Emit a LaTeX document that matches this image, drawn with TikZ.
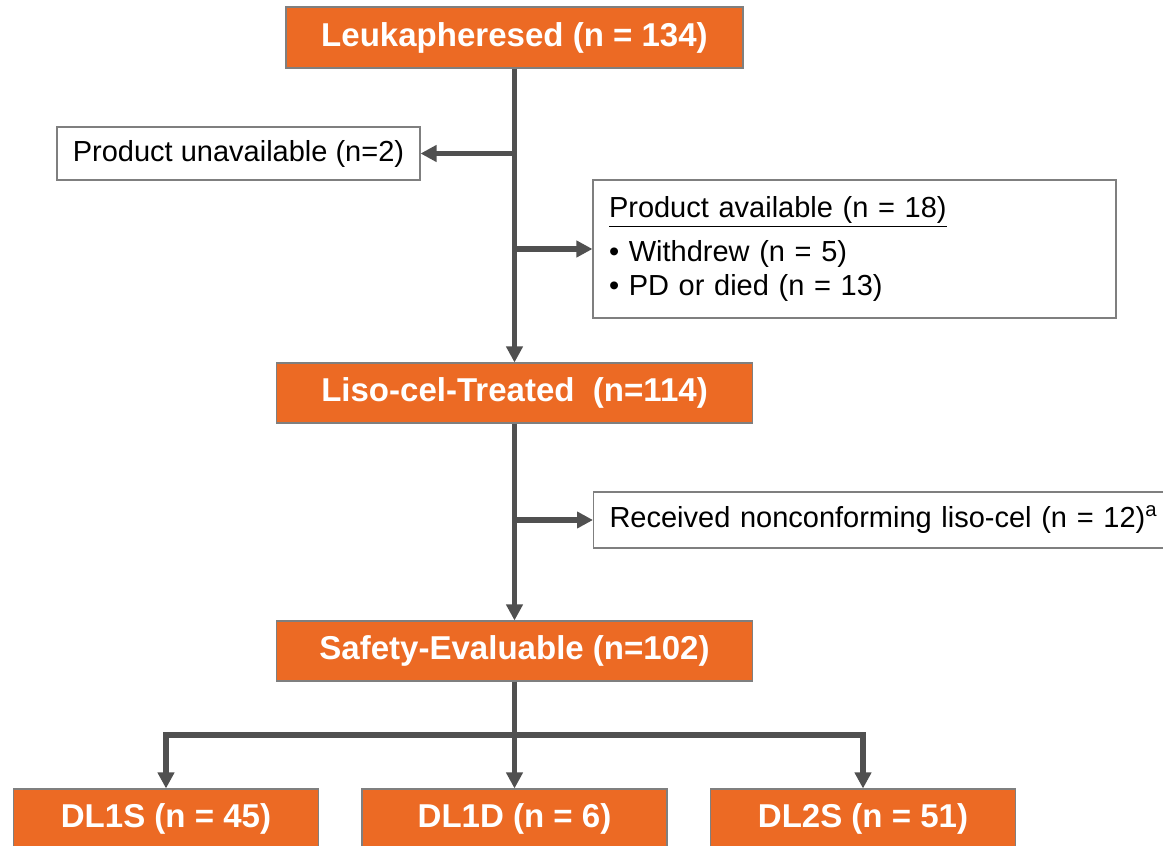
\documentclass[tikz,border=0pt]{standalone}
\usepackage{fontspec}
\setmainfont{Liberation Sans}
\usetikzlibrary{positioning,arrows.meta}

\definecolor{lisoorange}{HTML}{EC6A24}
\definecolor{flowgray}{HTML}{505050}
\definecolor{boxgray}{HTML}{7F7F7F}

\begin{document}
\begin{tikzpicture}[auto, node distance=2cm]

% Styles
\tikzstyle{block} = [draw=boxgray, line width=0.6pt, fill=lisoorange, rectangle, minimum height=1.2cm, text=white, font=\fontsize{18.8}{22}\selectfont\bfseries]
\tikzstyle{note}  = [draw=boxgray, line width=0.6pt, fill=white, rectangle, font=\fontsize{16.5}{19.2}\selectfont]
\tikzstyle{conn}  = [draw=flowgray, line width=3.1pt, line join=miter]
\tikzstyle{flow}  = [conn, -{Triangle[length=0.32cm, width=0.32cm]}]

\useasboundingbox (0,0) rectangle (23.26,-16.92);

% Nodes
\node [block, minimum width=9.14cm, minimum height=1.22cm] (lk) at (10.29,-0.75) {Leukapheresed (n = 134)};
\node [block, minimum width=9.52cm, below of=lk, node distance=7.11cm] (liso) {Liso-cel-Treated~~(n=114)};
\node [block, minimum width=9.52cm, below of=liso, node distance=5.16cm] (safe) {Safety-Evaluable (n=102)};
\node [block, minimum width=6.1cm, below of=safe, node distance=3.36cm] (dl1d) {DL1D (n = 6)};
\node [block, minimum width=6.1cm, left of=dl1d, node distance=6.97cm] (dl1s) {DL1S (n = 45)};
\node [block, minimum width=6.1cm, right of=dl1d, node distance=6.97cm] (dl2s) {DL2S (n = 51)};

% Side boxes
\node [note, minimum width=7.26cm, minimum height=1.06cm] (unav) at (4.77,-3.07) {Product unavailable (n=2)};
\node [note, text width=9.82cm, inner xsep=0.32cm, minimum height=2.76cm, align=left] (avail) at (17.09,-4.98)
  {\underline{Product available (n = 18)}\\[6pt] • Withdrew (n = 5)\\ • PD or died (n = 13)};
\node [note, anchor=west, text width=12cm, inner xsep=0.32cm, minimum height=1.12cm, align=left] (recv) at (11.86,-10.4)
  {Received nonconforming liso-cel (n = 12)\textsuperscript{a}};

% Split point
\coordinate [below of=safe, node distance=1.68cm] (split);

% Connections
\draw [flow] (lk) -- (liso);
\draw [flow] (lk.south |- unav.east) -- (unav);
\draw [flow] (lk.south |- avail.west) -- (avail.west);
\draw [flow] (liso) -- (safe);
\draw [flow] (liso.south |- recv.west) -- (recv.west);
\draw [conn] (safe) -- (split);
\draw [flow] (split) -- (dl1d);
\draw [flow] (split) -| (dl1s);
\draw [flow] (split) -| (dl2s);

\end{tikzpicture}
\end{document}
